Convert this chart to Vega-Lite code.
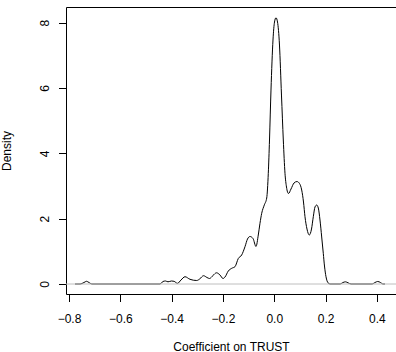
{
  "$schema": "https://vega.github.io/schema/vega-lite/v6.json",
  "width": 330,
  "height": 287,
  "autosize": {"type": "none"},
  "padding": {"left": 66, "top": 7, "right": 0, "bottom": 58},
  "background": "#ffffff",
  "config": {
    "view": {"stroke": "#000000", "strokeWidth": 1},
    "font": "Liberation Sans",
    "axis": {
      "grid": false,
      "domain": false,
      "tickColor": "#000000",
      "tickWidth": 1,
      "tickSize": 7.5,
      "labelColor": "#000000",
      "labelFontSize": 12,
      "labelFont": "Liberation Sans",
      "titleColor": "#000000",
      "titleFontSize": 12,
      "titleFont": "Liberation Sans",
      "titleFontWeight": "normal"
    }
  },
  "data": {
    "values": [
      {"coef": -0.7766, "density": 0},
      {"coef": -0.7571, "density": 0},
      {"coef": -0.7415, "density": 0.046},
      {"coef": -0.7318, "density": 0.083},
      {"coef": -0.7221, "density": 0.046},
      {"coef": -0.7104, "density": 0},
      {"coef": -0.4454, "density": 0},
      {"coef": -0.4337, "density": 0.077},
      {"coef": -0.4239, "density": 0.092},
      {"coef": -0.4142, "density": 0.067},
      {"coef": -0.4005, "density": 0.092},
      {"coef": -0.3908, "density": 0.083},
      {"coef": -0.3772, "density": 0.021},
      {"coef": -0.3635, "density": 0.122},
      {"coef": -0.3479, "density": 0.223},
      {"coef": -0.3284, "density": 0.144},
      {"coef": -0.3023, "density": 0.107},
      {"coef": -0.2895, "density": 0.162},
      {"coef": -0.2758, "density": 0.254},
      {"coef": -0.2622, "density": 0.199},
      {"coef": -0.2525, "density": 0.168},
      {"coef": -0.2388, "density": 0.26},
      {"coef": -0.2252, "density": 0.343},
      {"coef": -0.2115, "density": 0.275},
      {"coef": -0.1998, "density": 0.168},
      {"coef": -0.192, "density": 0.214},
      {"coef": -0.1792, "density": 0.398},
      {"coef": -0.1659, "density": 0.481},
      {"coef": -0.1531, "density": 0.53},
      {"coef": -0.1402, "density": 0.781},
      {"coef": -0.127, "density": 0.888},
      {"coef": -0.1141, "density": 1.142},
      {"coef": -0.1044, "density": 1.377},
      {"coef": -0.0946, "density": 1.454},
      {"coef": -0.0829, "density": 1.393},
      {"coef": -0.0712, "density": 1.148},
      {"coef": -0.0623, "density": 1.5},
      {"coef": -0.0557, "density": 1.858},
      {"coef": -0.049, "density": 2.164},
      {"coef": -0.0389, "density": 2.418},
      {"coef": -0.0295, "density": 2.632},
      {"coef": -0.0233, "density": 3.388},
      {"coef": -0.0186, "density": 4.408},
      {"coef": -0.0128, "density": 5.938},
      {"coef": -0.005, "density": 7.469},
      {"coef": 0.0009, "density": 8.02},
      {"coef": 0.0067, "density": 8.151},
      {"coef": 0.0126, "density": 8.02},
      {"coef": 0.0203, "density": 7.316},
      {"coef": 0.0281, "density": 5.785},
      {"coef": 0.0352, "density": 4.408},
      {"coef": 0.0418, "density": 3.388},
      {"coef": 0.0476, "density": 2.969},
      {"coef": 0.0554, "density": 2.77},
      {"coef": 0.0652, "density": 2.908},
      {"coef": 0.0769, "density": 3.092},
      {"coef": 0.0885, "density": 3.137},
      {"coef": 0.0983, "density": 3.076},
      {"coef": 0.1069, "density": 2.877},
      {"coef": 0.1139, "density": 2.51},
      {"coef": 0.1197, "density": 2.06},
      {"coef": 0.1275, "density": 1.683},
      {"coef": 0.1365, "density": 1.5},
      {"coef": 0.1451, "density": 1.683},
      {"coef": 0.1521, "density": 2.06},
      {"coef": 0.1587, "density": 2.357},
      {"coef": 0.1653, "density": 2.418},
      {"coef": 0.1716, "density": 2.326},
      {"coef": 0.1782, "density": 1.959},
      {"coef": 0.1848, "density": 1.439},
      {"coef": 0.191, "density": 0.94},
      {"coef": 0.1957, "density": 0.551},
      {"coef": 0.2016, "density": 0.223},
      {"coef": 0.2094, "density": 0.037},
      {"coef": 0.2171, "density": 0},
      {"coef": 0.2561, "density": 0},
      {"coef": 0.2678, "density": 0.046},
      {"coef": 0.2775, "density": 0.067},
      {"coef": 0.2873, "density": 0.037},
      {"coef": 0.299, "density": 0},
      {"coef": 0.3808, "density": 0},
      {"coef": 0.3925, "density": 0.046},
      {"coef": 0.403, "density": 0.077},
      {"coef": 0.414, "density": 0.046},
      {"coef": 0.4237, "density": 0},
      {"coef": 0.4315, "density": 0}
    ]
  },
  "layer": [
    {
      "mark": {"type": "line", "interpolate": "monotone", "color": "#000000", "strokeWidth": 1},
      "encoding": {
        "x": {
          "field": "coef",
          "type": "quantitative",
          "scale": {"domain": [-0.8117, 0.4744], "nice": false, "zero": false},
          "axis": {
            "values": [-0.8, -0.6, -0.4, -0.2, 0, 0.2, 0.4],
            "format": ".1f",
            "labelPadding": 11.5,
            "title": "Coefficient on TRUST",
            "titleBaseline": "alphabetic",
            "titleY": 56
          }
        },
        "y": {
          "field": "density",
          "type": "quantitative",
          "scale": {"domain": [-0.306, 8.48], "nice": false, "zero": false},
          "axis": {
            "values": [0, 2, 4, 6, 8],
            "format": "d",
            "labelAngle": 270,
            "labelAlign": "center",
            "labelBaseline": "alphabetic",
            "labelPadding": 10,
            "title": "Density",
            "titleAngle": 270,
            "titleBaseline": "alphabetic",
            "titleX": -55.5
          }
        }
      }
    },
    {
      "data": {"values": [{"level": 0}]},
      "mark": {"type": "rule", "color": "#bebebe", "strokeWidth": 1},
      "encoding": {
        "y": {"field": "level", "type": "quantitative"}
      }
    }
  ]
}
